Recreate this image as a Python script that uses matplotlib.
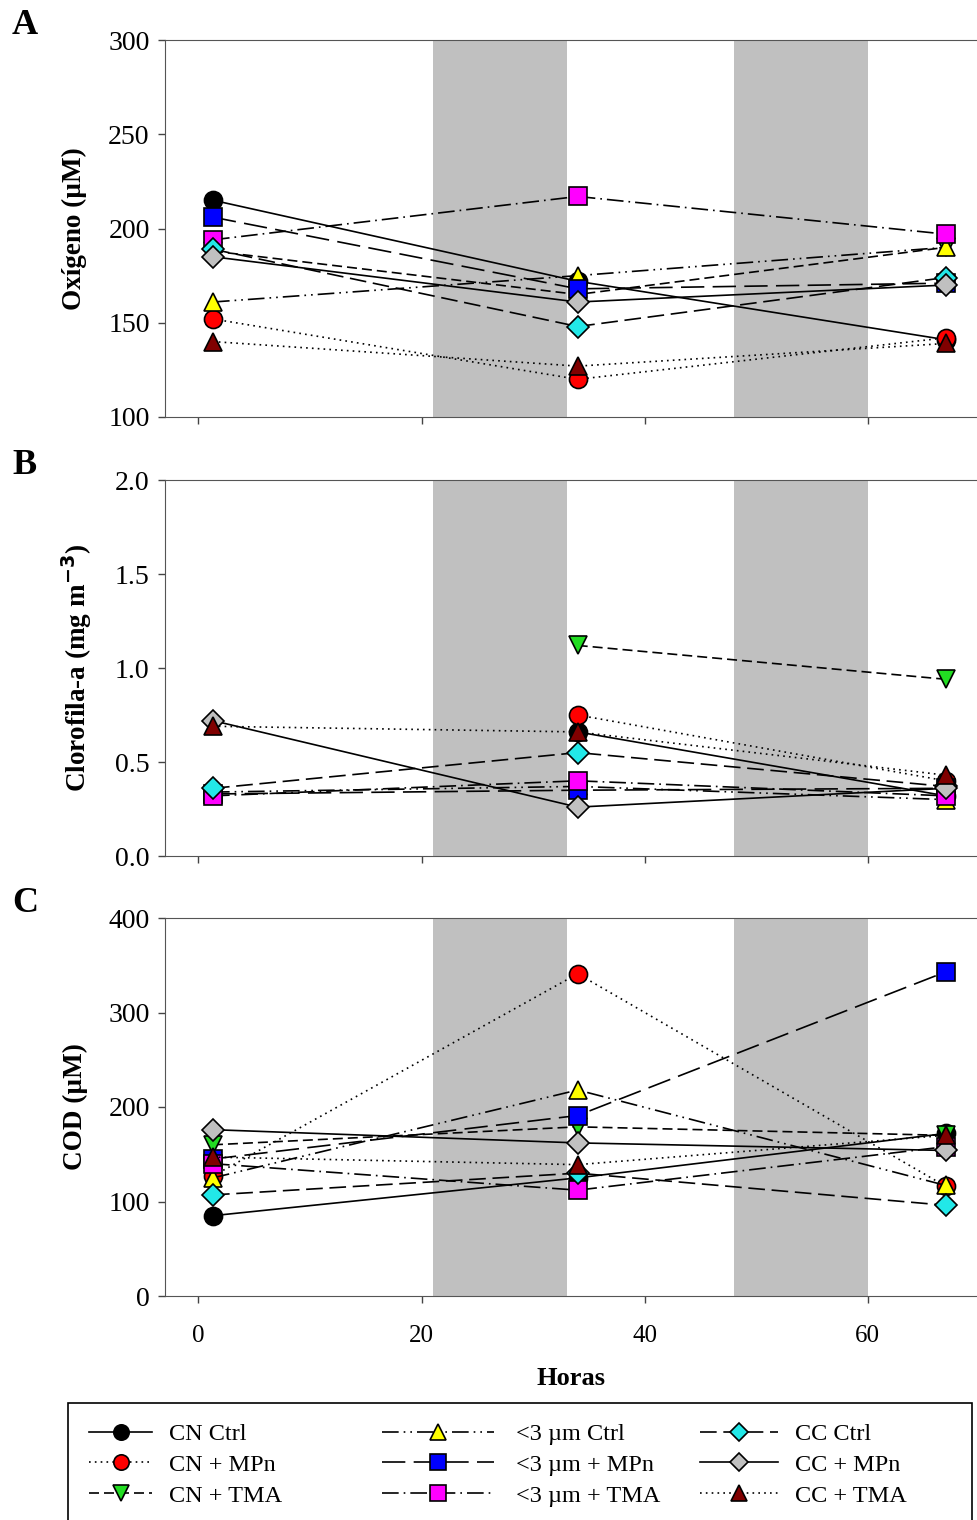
import numpy as np
import matplotlib
matplotlib.use("Agg")
import matplotlib.pyplot as plt
from matplotlib.patches import Rectangle

plt.rcParams['font.family'] = ['Liberation Serif', 'DejaVu Serif']

# sampling times (hours)
horas = [1.3, 34, 67]
noches = [(21, 33), (48, 60)]

series_names = ["CN Ctrl", "CN + MPn", "CN + TMA",
                "<3 µm Ctrl", "<3 µm + MPn", "<3 µm + TMA",
                "CC Ctrl", "CC + MPn", "CC + TMA"]

# Panel A: oxigeno (uM)
oxigeno = {
    "CN Ctrl":     [215, 172, 141],
    "CN + MPn":    [152, 120, 142],
    "CN + TMA":    [188, 165, 190],
    "<3 µm Ctrl":  [161, 175, 190],
    "<3 µm + MPn": [206, 168, 171],
    "<3 µm + TMA": [194, 217, 197],
    "CC Ctrl":     [189, 148, 174],
    "CC + MPn":    [185, 161, 170],
    "CC + TMA":    [140, 127, 139],
}

# Panel B: clorofila-a (mg m-3)
clorofila = {
    "CN Ctrl":     [np.nan, 0.66, 0.32],
    "CN + MPn":    [np.nan, 0.75, 0.40],
    "CN + TMA":    [np.nan, 1.12, 0.94],
    "<3 µm Ctrl":  [0.34, 0.37, 0.30],
    "<3 µm + MPn": [0.33, 0.35, 0.36],
    "<3 µm + TMA": [0.32, 0.40, 0.32],
    "CC Ctrl":     [0.36, 0.55, 0.37],
    "CC + MPn":    [0.72, 0.26, 0.36],
    "CC + TMA":    [0.69, 0.66, 0.43],
}

# Panel C: COD (uM)
cod = {
    "CN Ctrl":     [85, 125, 172],
    "CN + MPn":    [127, 341, 116],
    "CN + TMA":    [160, 179, 170],
    "<3 µm Ctrl":  [125, 218, 117],
    "<3 µm + MPn": [145, 191, 343],
    "<3 µm + TMA": [140, 112, 158],
    "CC Ctrl":     [107, 130, 96],
    "CC + MPn":    [176, 162, 154],
    "CC + TMA":    [147, 139, 170],
}

styles = {
    "CN Ctrl":     dict(ls='-', marker='o', mfc='black'),
    "CN + MPn":    dict(ls=(0, (1, 2.5)), marker='o', mfc='#ff0000'),
    "CN + TMA":    dict(ls=(0, (6, 3)), marker='v', mfc='#22dd22'),
    "<3 µm Ctrl":  dict(ls=(0, (10, 3, 1, 3, 1, 3)), marker='^', mfc='#ffff00'),
    "<3 µm + MPn": dict(ls=(0, (14, 5)), marker='s', mfc='#0000ff'),
    "<3 µm + TMA": dict(ls=(0, (10, 3, 1, 3)), marker='s', mfc='#ff00ff'),
    "CC Ctrl":     dict(ls=(0, (10, 4)), marker='D', mfc='#22e8e8'),
    "CC + MPn":    dict(ls='-', marker='D', mfc='#c0c0c0'),
    "CC + TMA":    dict(ls=(0, (1, 2.5)), marker='^', mfc='#800000'),
}

fig = plt.figure(figsize=(9.77, 15.2), dpi=100)
W, H = 977, 1520

def px_axes(top, bottom):
    return fig.add_axes([165 / W, 1 - bottom / H, (W - 165) / W, (bottom - top) / H])

panels = [
    ("A", oxigeno, (100, 300), [100, 150, 200, 250, 300], "Oxígeno (µM)", 40, 417, False),
    ("B", clorofila, (0, 2.0), [0.0, 0.5, 1.0, 1.5, 2.0], r"Clorofila-a (mg m$^{\mathbf{-3}}$)", 480, 856, False),
    ("C", cod, (0, 400), [0, 100, 200, 300, 400], "COD (µM)", 918, 1296, True),
]

handles = []
for letter, data, ylim, yticks, ylabel, top, bottom, show_x in panels:
    ax = px_axes(top, bottom)
    for a, b in noches:
        ax.axvspan(a, b, color='#c0c0c0', lw=0, zorder=0)
    hs = []
    for name in series_names:
        st = styles[name]
        ms = 11 if st['marker'] == 'D' else 13
        h, = ax.plot(horas, data[name], color='black', lw=1.2, ls=st['ls'],
                     marker=st['marker'], mfc=st['mfc'], mec='black', mew=1.2,
                     ms=ms, zorder=3, clip_on=False)
        hs.append(h)
    if not handles:
        handles = hs
    ax.set_xlim(-3, 69.8)
    ax.set_ylim(*ylim)
    ax.set_yticks(yticks)
    if letter == "B":
        ax.set_yticklabels([f"{v:.1f}" for v in yticks])
    ax.set_xticks([0, 20, 40, 60])
    if not show_x:
        ax.set_xticklabels([])
    ax.tick_params(direction='out', length=5, colors='#444444',
                   labelcolor='black', width=1)
    ax.tick_params(axis='y', labelsize=20, pad=6)
    ax.tick_params(axis='x', labelsize=18, pad=16)
    for s in ['left', 'bottom', 'top']:
        ax.spines[s].set_color('#555555')
    ax.spines['right'].set_visible(False)
    ax.set_ylabel(ylabel, fontsize=19.5, fontweight='bold', labelpad=15)
    fig.text(12 / W, 1 - (top - 15) / H, letter, fontsize=26, fontweight='bold', va='center')
    if show_x:
        ax.set_xlabel("Horas", fontsize=19, fontweight='bold', labelpad=14)

# legend: frame plus one column at a time
fig.patches.append(Rectangle((68 / W, -0.01), (972 - 68) / W, 0.01 + (1520 - 1403) / H,
                             transform=fig.transFigure, fill=False,
                             edgecolor='black', lw=1.2))
col_x = [72, 365, 683]
col_hl = [2.6, 4.6, 3.2]
col_pad = [0.7, 0.9, 0.7]
for i in range(3):
    leg = fig.legend(handles[3 * i:3 * i + 3], series_names[3 * i:3 * i + 3],
                     loc='upper left', bbox_to_anchor=(col_x[i] / W, 1 - 1406 / H),
                     fontsize=17.5, frameon=False, handlelength=col_hl[i],
                     handletextpad=col_pad[i], labelspacing=0.36,
                     borderpad=0.2, markerscale=0.85)

fig.savefig("out.png", dpi=100)
